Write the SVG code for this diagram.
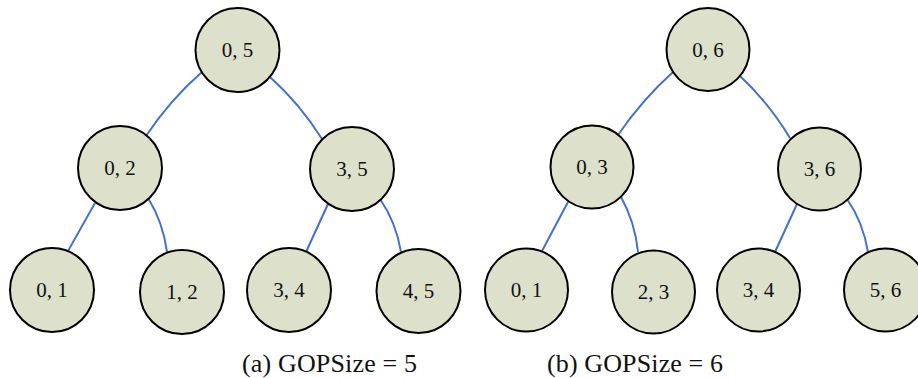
<svg xmlns="http://www.w3.org/2000/svg" width="918" height="378" viewBox="0 0 918 378">
<style>
.n{fill:#dde1cb;stroke:#000;stroke-width:2}
.t{font-size:21px;fill:#111;text-anchor:middle}
.c{font-size:26px;fill:#111}
.e{fill:none;stroke:#4472c4;stroke-width:2}
</style>
<rect width="918" height="378" fill="#fff"/>
<g id="connectors">
<path class="e" d="M202,72 Q170,100 146,136"/>
<path class="e" d="M270,77 Q300,104 322,139"/>
<path class="e" d="M95,203 L68,251"/>
<path class="e" d="M148,198 Q163,222 167,252"/>
<path class="e" d="M328,204 L306,252"/>
<path class="e" d="M380,199 Q396,222 401,252"/>
<path class="e" d="M673,72 Q642,100 618,135"/>
<path class="e" d="M740,76 Q768,102 790,138"/>
<path class="e" d="M568,202 L542,251"/>
<path class="e" d="M621,197 Q635,222 638,252"/>
<path class="e" d="M797,204 L775,252"/>
<path class="e" d="M847,199 Q863,222 868,252"/>
</g>
<g font-family="Liberation Serif, Times New Roman, serif">
<g id="a05"><circle class="n" cx="237.5" cy="50" r="42"/><text class="t" x="237.5" y="57">0, 5</text></g>
<g id="a02"><circle class="n" cx="120" cy="168" r="42"/><text class="t" x="120" y="175">0, 2</text></g>
<g id="a35"><circle class="n" cx="352" cy="169" r="42"/><text class="t" x="352" y="176">3, 5</text></g>
<g id="a01"><circle class="n" cx="52" cy="290" r="42"/><text class="t" x="52" y="297">0, 1</text></g>
<g id="a12"><circle class="n" cx="182" cy="292" r="42"/><text class="t" x="182" y="299">1, 2</text></g>
<g id="a34"><circle class="n" cx="289" cy="290" r="42"/><text class="t" x="289" y="297">3, 4</text></g>
<g id="a45"><circle class="n" cx="418.5" cy="291" r="42"/><text class="t" x="418.5" y="298">4, 5</text></g>
<g id="b06"><circle class="n" cx="708" cy="49.5" r="41.5"/><text class="t" x="708" y="56.5">0, 6</text></g>
<g id="b03"><circle class="n" cx="592" cy="167" r="41.5"/><text class="t" x="592" y="174">0, 3</text></g>
<g id="b36"><circle class="n" cx="819.5" cy="169" r="41.5"/><text class="t" x="819.5" y="176">3, 6</text></g>
<g id="b01"><circle class="n" cx="526.5" cy="290" r="41.5"/><text class="t" x="526.5" y="297">0, 1</text></g>
<g id="b23"><circle class="n" cx="653.5" cy="292" r="41.5"/><text class="t" x="653.5" y="299">2, 3</text></g>
<g id="b34"><circle class="n" cx="758.5" cy="290" r="41.5"/><text class="t" x="758.5" y="297">3, 4</text></g>
<g id="b56"><circle class="n" cx="885.5" cy="290" r="41.5"/><text class="t" x="885.5" y="297">5, 6</text></g>
<text class="c" x="242" y="372" textLength="175">(a) GOPSize = 5</text>
<text class="c" x="547" y="372" textLength="176">(b) GOPSize = 6</text>
</g>
</svg>
